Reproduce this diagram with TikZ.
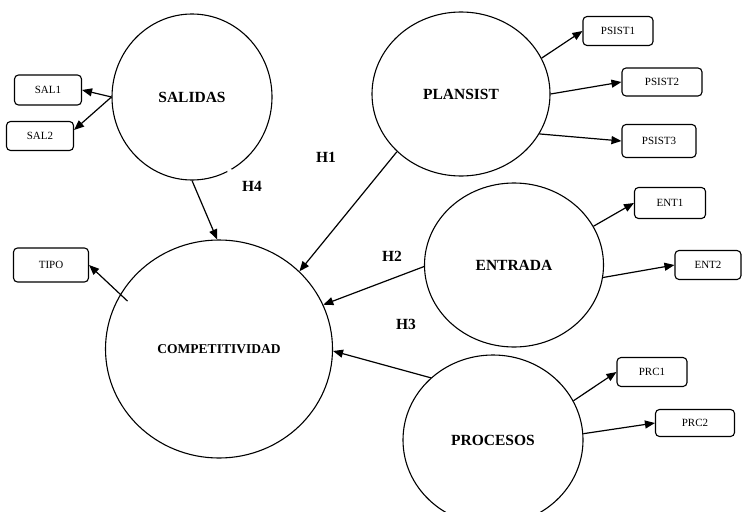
\documentclass[tikz,border=0pt]{standalone}
\usepackage{fontspec}
\setmainfont{Liberation Serif}
\usetikzlibrary{shapes.geometric,arrows.meta}
\begin{document}
\begin{tikzpicture}[x=1pt,y=-1pt,
    construct/.style={draw, ellipse, line width=1.1pt, inner sep=0pt,
      font=\fontsize{15.5}{18}\selectfont\bfseries},
    indicator/.style={draw, rectangle, rounded corners=4pt, line width=1.1pt,
      inner sep=0pt, font=\fontsize{11}{13}\selectfont},
    arr/.style={-{Triangle[length=10pt,width=8pt]}, line width=1.2pt},
    hyp/.style={font=\fontsize{15.5}{18}\selectfont\bfseries}]
    \useasboundingbox (0,0) rectangle (743,511);

    % constructs
    \node[construct, minimum width=160pt, minimum height=166pt] (sal) at (192,97) {SALIDAS};
    \node[construct, minimum width=178pt, minimum height=164pt] (plan) at (461,94) {PLANSIST};
    \node[construct, minimum width=179pt, minimum height=164pt] (ent) at (514,265) {ENTRADA};
    \node[construct, minimum width=180pt, minimum height=170pt] (proc) at (493,440) {PROCESOS};
    \node[construct, minimum width=227pt, minimum height=218pt,
      font=\fontsize{13.5}{16}\selectfont\bfseries] (comp) at (219,349) {COMPETITIVIDAD};
    \fill[white] (sal.297) circle (2.5pt);

    % indicators
    \node[indicator, minimum width=67pt, minimum height=30pt] (sal1) at (48,90) {SAL1};
    \node[indicator, minimum width=67pt, minimum height=29pt] (sal2) at (40,136) {SAL2};
    \node[indicator, minimum width=70pt, minimum height=29pt] (psist1) at (618,31) {PSIST1};
    \node[indicator, minimum width=80pt, minimum height=28pt] (psist2) at (662,82) {PSIST2};
    \node[indicator, minimum width=74pt, minimum height=33pt] (psist3) at (659,141) {PSIST3};
    \node[indicator, minimum width=71pt, minimum height=31pt] (ent1) at (670,203) {ENT1};
    \node[indicator, minimum width=66pt, minimum height=29pt] (ent2) at (708,265) {ENT2};
    \node[indicator, minimum width=70pt, minimum height=29pt] (prc1) at (652,372) {PRC1};
    \node[indicator, minimum width=79pt, minimum height=27pt] (prc2) at (695,423) {PRC2};
    \node[indicator, minimum width=75pt, minimum height=34pt] (tipo) at (51,265) {TIPO};

    % hypotheses
    \node[hyp] (h1) at (326,157) {H1};
    \node[hyp] (h4) at (252,186) {H4};
    \node[hyp] (h2) at (392,256) {H2};
    \node[hyp] (h3) at (406,324) {H3};

    % arrows
    \draw[arr] (sal.180) -- (sal1.east);
    \draw[arr] (sal.180) -- (sal2.10);
    \draw[arr] (sal.270) -- (comp.91);
    \draw[arr] (plan.24) -- (psist1.west);
    \draw[arr] (plan.0) -- (psist2.west);
    \draw[arr] (plan.333) -- (psist3.west);
    \draw[arr] (plan.222) -- (comp.44);
    \draw[arr] (ent.26) -- (ent1.west);
    \draw[arr] (ent.352) -- (ent2.west);
    \draw[arr] (ent.181) -- (comp.23);
    \draw[arr] (proc.26) -- (prc1.west);
    \draw[arr] (proc.4) -- (prc2.west);
    \draw[arr] (proc.135) -- (comp.359);
    \draw[arr, shorten <=-10pt] (comp.151) -- (tipo.east);
\end{tikzpicture}
\end{document}
